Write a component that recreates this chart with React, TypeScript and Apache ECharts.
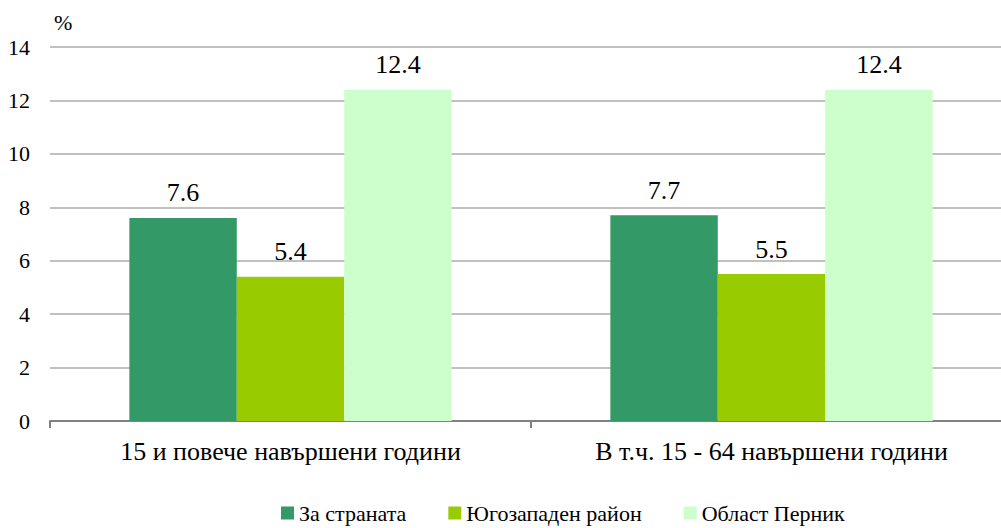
import React, { useEffect, useRef } from "react";
import * as echarts from "echarts";

const categories = ["15 и повече навършени години", "В т.ч. 15 - 64 навършени години"];
const seriesNames = ["За страната", "Югозападен район", "Област Перник"];
const countryValues = [7.6, 7.7];
const regionValues = [5.4, 5.5];
const pernikValues = [12.4, 12.4];
const colors = ["#339966", "#99CC00", "#CCFFCC"];
const unitLabel = "%";

const FONT = "Liberation Serif";

export default function App() {
  const ref = useRef<HTMLDivElement>(null);
  useEffect(() => {
    const chart = echarts.init(ref.current!, null, { renderer: "svg" });
    const data = [countryValues, regionValues, pernikValues];
    chart.setOption({
      animation: false,
      textStyle: { fontFamily: FONT },
      grid: { left: 50, top: 47, bottom: 107, width: 962, outerBoundsMode: "none", containLabel: false },
      legend: {
        bottom: -1,
        left: 276,
        itemWidth: 13,
        itemHeight: 13,
        itemGap: 42,
        icon: "rect",
        textStyle: { fontFamily: FONT, fontSize: 22, color: "#000" },
        data: seriesNames,
      },
      xAxis: {
        type: "category",
        data: categories,
        axisLine: { lineStyle: { color: "#808080", width: 2 } },
        axisTick: { show: true, length: 7, lineStyle: { color: "#808080", width: 2 } },
        axisLabel: { fontFamily: FONT, fontSize: 26, color: "#000", margin: 17 },
      },
      yAxis: {
        type: "value",
        min: 0,
        max: 14,
        interval: 2,
        axisLine: { show: false },
        axisTick: { show: false },
        splitLine: { lineStyle: { color: "#C0C0C0", width: 2 } },
        axisLabel: { fontFamily: FONT, fontSize: 22, color: "#000", margin: 20 },
      },
      series: seriesNames.map((name, i) => ({
        name,
        type: "bar",
        data: data[i],
        barGap: "0%",
        barCategoryGap: "33%",
        itemStyle: { color: colors[i] },
        label: {
          show: true,
          position: "top",
          distance: 12,
          fontFamily: FONT,
          fontSize: 26,
          color: "#000",
          formatter: (p: any) => p.value.toFixed(1),
        },
      })),
    });
    return () => chart.dispose();
  }, []);
  return (
    <div style={{ position: "absolute", left: 0, top: 0, width: 1001, height: 528, fontFamily: FONT }}>
      <div ref={ref} style={{ position: "absolute", left: 0, top: 0, width: 1001, height: 528 }} />
      <span
        style={{
          position: "absolute",
          left: 54,
          top: 10,
          fontFamily: FONT,
          fontSize: 22,
          lineHeight: "26px",
          color: "#000",
        }}
      >
        {unitLabel}
      </span>
    </div>
  );
}
